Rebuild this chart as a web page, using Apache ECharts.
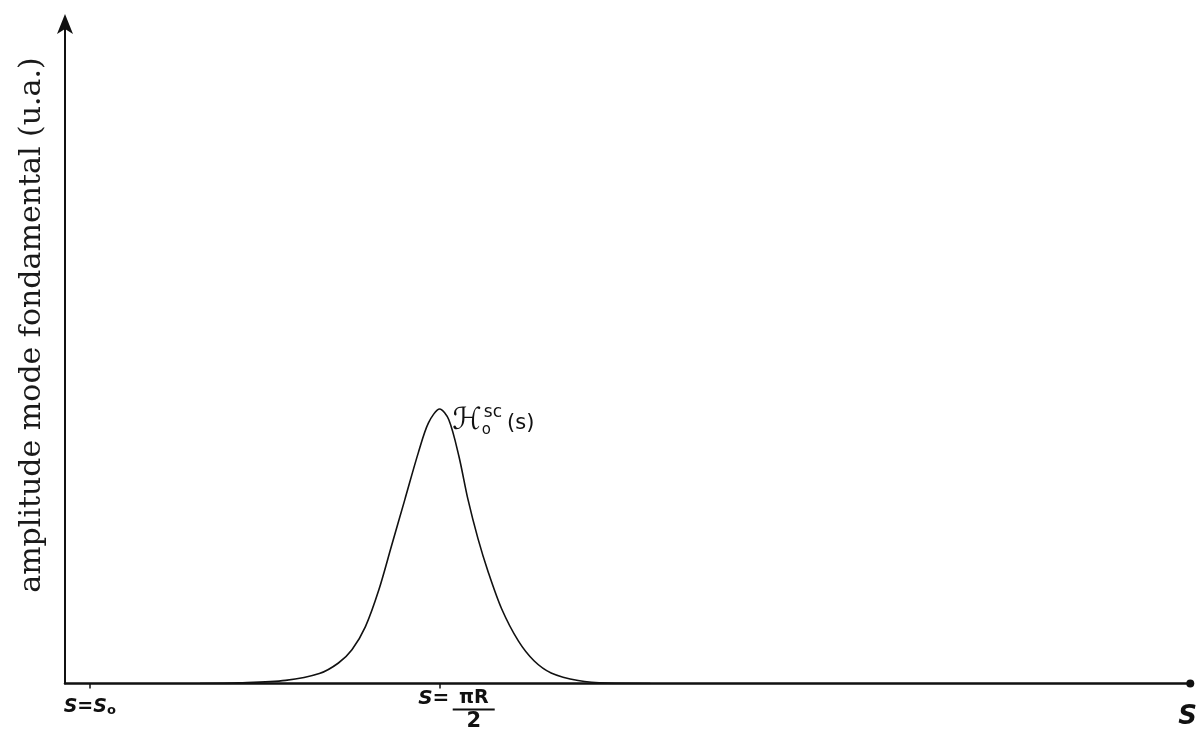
<!DOCTYPE html>
<html>
<head>
<meta charset="utf-8">
<script src="https://cdn.jsdelivr.net/npm/echarts@6/dist/echarts.min.js"></script>
<style>
html,body{margin:0;padding:0;background:#fff;}
#chart{width:1200px;height:732px;}
</style>
</head>
<body>
<div id="chart"></div>
<script>
// arc-length coordinate s (arbitrary units) and amplitude (u.a.)
const sValues = [12, 15.5, 19.6, 22.6, 24.3, 25.5, 26.7, 27.9, 29.0, 30.2, 31.4, 32.3, 33.3, 34.1, 35.0, 35.8, 36.7, 37.6, 38.8, 40.3, 41.7, 43.2, 45.6, 48.2, 52];
const amplitude = [0, 0.1, 0.47, 1.5, 3.1, 5.1, 8.6, 14.2, 20.7, 27.8, 34.9, 39.4, 41.5, 39.9, 34.4, 27.9, 21.9, 16.9, 11.3, 6.4, 3.4, 1.6, 0.45, 0.05, 0];
const tickValues = [2.2, 33.3];
const tickLabels = ['S=S₀', 'S=πR/2'];
const yAxisTitle = 'amplitude mode fondamental (u.a.)';
const xAxisTitle = 'S';
const curveName = 'ℋ₀ˢᶜ(s)';

const chart = echarts.init(document.getElementById('chart'), null, {renderer: 'canvas'});
const ink = '#111';
const data = sValues.map((s, i) => [s, amplitude[i]]);

const option = {
  backgroundColor: '#fff',
  animation: false,
  grid: {left: 65, right: 7, top: 22, bottom: 47},
  xAxis: {
    type: 'value', min: 0, max: 100,
    name: xAxisTitle, nameLocation: 'end', nameGap: -12,
    nameTextStyle: {fontFamily: 'DejaVu Sans', fontStyle: 'italic', fontWeight: 'bold', fontSize: 26, color: ink, verticalAlign: 'top', padding: [21, 0, 0, 0]},
    axisLine: {show: true, onZero: false, symbol: ['none', 'circle'], symbolSize: [8, 8], lineStyle: {color: ink, width: 2.5}},
    splitLine: {show: false},
    axisTick: {show: true, customValues: tickValues, length: 5, lineStyle: {color: ink, width: 1.5}},
    axisLabel: {
      show: true, customValues: tickValues, margin: 6, color: ink,
      formatter: function (v) {
        if (Math.abs(v - tickValues[0]) < 1e-6) return '{gap|}\n{s|S=S}{sub|o}';
        return '{l|}{s2|S=}{num|πR}\n{l|}{sp|}{bar|}\n{l|}{sp|}{den|2}';
      },
      rich: {
        gap: {height: 8, lineHeight: 8},
        s: {fontFamily: 'DejaVu Sans', fontStyle: 'italic', fontWeight: 'bold', fontSize: 19, color: ink, lineHeight: 20},
        sub: {fontFamily: 'DejaVu Sans', fontWeight: 'bold', fontSize: 13, color: ink, verticalAlign: 'bottom', lineHeight: 20, padding: [6, 0, 0, 0]},
        l: {width: 30, lineHeight: 2},
        sp: {width: 38, lineHeight: 2},
        s2: {width: 38, align: 'right', fontFamily: 'DejaVu Sans', fontStyle: 'italic', fontWeight: 'bold', fontSize: 20, color: ink, lineHeight: 18},
        num: {width: 42, align: 'center', fontFamily: 'DejaVu Sans', fontWeight: 'bold', fontSize: 19, color: ink, lineHeight: 17},
        bar: {width: 42, height: 2, lineHeight: 4, backgroundColor: ink},
        den: {width: 42, align: 'center', fontFamily: 'DejaVu Sans', fontWeight: 'bold', fontSize: 21, color: ink, lineHeight: 20}
      }
    }
  },
  yAxis: {
    type: 'value', min: 0, max: 100,
    axisLine: {show: true, symbol: ['none', 'arrow'], symbolSize: [12, 20], symbolOffset: [0, 8], lineStyle: {color: ink, width: 2}},
    splitLine: {show: false},
    axisTick: {show: false},
    axisLabel: {show: false}
  },
  graphic: [{
    type: 'text', x: 32, y: 325, rotation: Math.PI / 2,
    style: {text: yAxisTitle, fontFamily: 'DejaVu Serif', fontSize: 30, fill: '#1a1a1a', align: 'center', verticalAlign: 'middle'}
  }],
  series: [{
    type: 'line', name: curveName, data: data,
    smooth: 0.3, showSymbol: false, symbol: 'none',
    lineStyle: {color: ink, width: 1.6},
    markPoint: {
      symbol: 'circle', symbolSize: 1, itemStyle: {color: 'rgba(0,0,0,0)'},
      data: [{type: 'max'}],
      label: {
        show: true, position: 'right', distance: 0, offset: [12, 12],
        formatter: '{h|ℋ}{sub|o}{sup|sc}{p|(s)}',
        rich: {
          h: {fontFamily: 'DejaVu Sans', fontSize: 30, color: ink, lineHeight: 34, verticalAlign: 'middle'},
          sub: {fontFamily: 'DejaVu Sans', fontSize: 15, color: ink, width: 0, verticalAlign: 'bottom', lineHeight: 34},
          sup: {fontFamily: 'DejaVu Sans', fontSize: 17, color: ink, verticalAlign: 'top', lineHeight: 34, padding: [0, 5, 0, 2]},
          p: {fontFamily: 'DejaVu Sans', fontSize: 21, color: ink, lineHeight: 34, verticalAlign: 'middle', padding: [6, 0, 0, 0]}
        }
      }
    }
  }]
};
chart.setOption(option);
</script>
</body>
</html>
